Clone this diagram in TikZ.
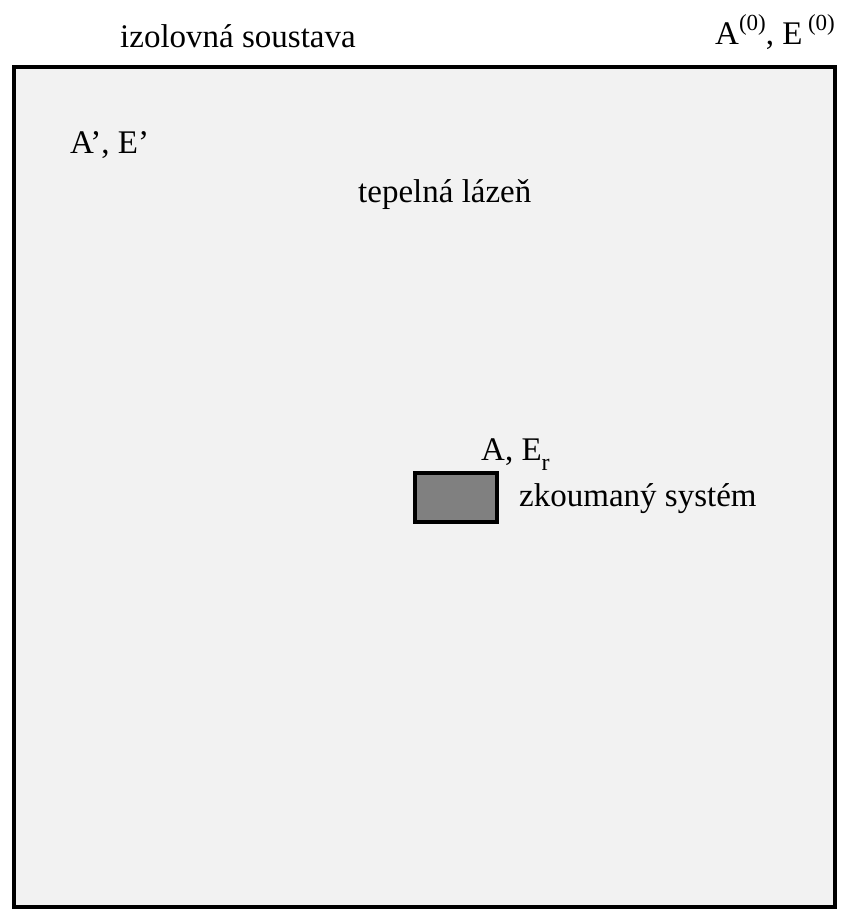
\documentclass[tikz,border=0pt]{standalone}
\usepackage{fontspec}
\setmainfont{Liberation Serif}
\newcommand\mysup[1]{\raisebox{14pt}{\fontsize{23}{27}\selectfont #1}}
\newcommand\mysub[1]{\raisebox{-10pt}{\fontsize{24}{28}\selectfont #1}}
\tikzset{
  lbl/.style={anchor=base west, inner sep=0pt, font=\fontsize{33}{40}\selectfont},
  outerbox/.style={draw=black, line width=4pt, fill=black!5},
  sysbox/.style={draw=black, line width=4pt, fill=black!50}
}
\begin{document}
\begin{tikzpicture}[x=1pt,y=-1pt]
\useasboundingbox (0,0) rectangle (841,911);
\node[outerbox, minimum width=821pt, minimum height=840pt, inner sep=0pt, anchor=north west] (bath) at (12,65) {};
\node[sysbox, minimum width=82pt, minimum height=49pt, inner sep=0pt, anchor=north west] (sys) at (413,471) {};
\node[lbl] (iso) at (120,47) {izolovná soustava};
\node[lbl] (a0) at (715,44) {A\mysup{(0)}, E\,\mysup{(0)}};
\node[lbl] (ae) at (70,153) {A’, E’};
\node[lbl] (tl) at (358,202) {tepelná lázeň};
\node[lbl] (aer) at (481,460) {A, E\mysub{r}};
\node[lbl] (zs) at (519,506) {zkoumaný systém};
\end{tikzpicture}
\end{document}
